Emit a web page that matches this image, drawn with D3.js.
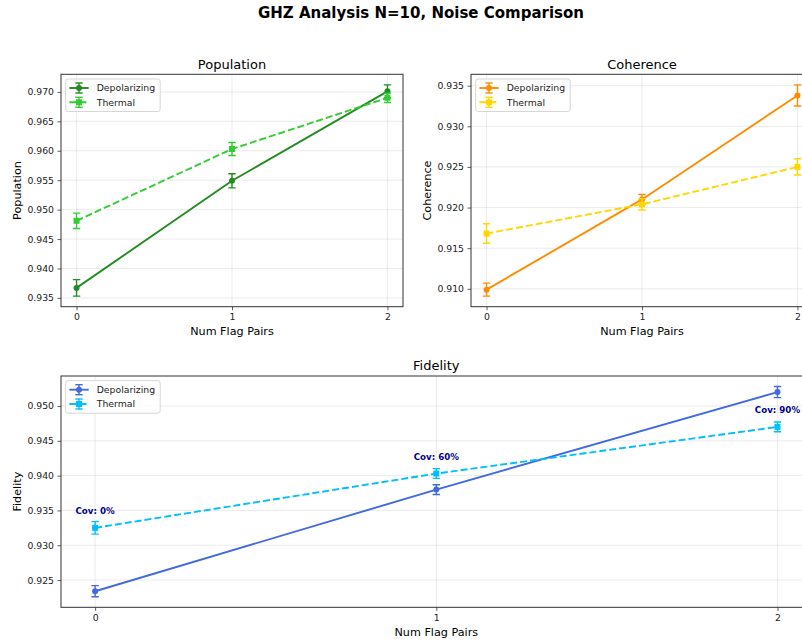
<!DOCTYPE html>
<html>
<head>
<meta charset="utf-8">
<script src="https://cdn.jsdelivr.net/npm/d3@7"></script>
<style>
  body { margin: 0; background: #fff; }
  svg { display: block; font-family: "DejaVu Sans", sans-serif; }
</style>
</head>
<body>
<svg id="fig" width="802" height="643"></svg>
<script>
// ---- data ----
const flagPairs = [0, 1, 2];
const coverageLabels = ["Cov: 0%", "Cov: 60%", "Cov: 90%"];

const popDepol = [0.9367, 0.9549, 0.9701];
const popDepolErr = [0.0014, 0.0012, 0.0011];
const popTherm = [0.9481, 0.9603, 0.9690];
const popThermErr = [0.0013, 0.0011, 0.0008];

const cohDepol = [0.9099, 0.9210, 0.9338];
const cohDepolErr = [0.0008, 0.0006, 0.0013];
const cohTherm = [0.9168, 0.9204, 0.9250];
const cohThermErr = [0.0012, 0.0007, 0.0010];

const fidDepol = [0.9234, 0.9380, 0.9520];
const fidDepolErr = [0.0008, 0.0007, 0.0008];
const fidTherm = [0.9325, 0.9403, 0.9470];
const fidThermErr = [0.0009, 0.0007, 0.0007];

const popTicks = [0.935, 0.940, 0.945, 0.950, 0.955, 0.960, 0.965, 0.970];
const cohTicks = [0.910, 0.915, 0.920, 0.925, 0.930, 0.935];
const fidTicks = [0.925, 0.930, 0.935, 0.940, 0.945, 0.950];

const seriesNames = ["Depolarizing", "Thermal"];

// ---- figure ----
const svg = d3.select("#fig");

svg.append("text")
  .attr("x", 421).attr("y", 18)
  .attr("text-anchor", "middle")
  .attr("font-size", 15).attr("font-weight", "bold")
  .text("GHZ Analysis N=10, Noise Comparison");

function panel(cfg) {
  const { box, title, ylabel, ticks, series, colors, annotate } = cfg;
  const g = svg.append("g");

  // y-limits from the error-bar extents plus a 5% margin
  let lo = Infinity, hi = -Infinity;
  series.forEach(s => s.v.forEach((v, i) => {
    lo = Math.min(lo, v - s.e[i]);
    hi = Math.max(hi, v + s.e[i]);
  }));
  const pad = (hi - lo) * 0.05;

  const x = d3.scaleLinear().domain([-0.1, 2.1]).range([box.l, box.r]);
  const y = d3.scaleLinear().domain([lo - pad, hi + pad]).range([box.b, box.t]);

  const clipId = "clip" + Math.random().toString(36).slice(2, 8);
  svg.append("clipPath").attr("id", clipId)
    .append("rect").attr("x", box.l).attr("y", box.t)
    .attr("width", box.r - box.l).attr("height", box.b - box.t);

  // grid
  const grid = g.append("g").attr("stroke", "#b0b0b0").attr("stroke-opacity", 0.35).attr("stroke-width", 0.75);
  ticks.forEach(t => grid.append("line")
    .attr("x1", box.l).attr("x2", box.r).attr("y1", y(t)).attr("y2", y(t)));
  flagPairs.forEach(t => grid.append("line")
    .attr("x1", x(t)).attr("x2", x(t)).attr("y1", box.t).attr("y2", box.b));

  // axes
  const yAxis = g.append("g").attr("transform", `translate(${box.l},0)`)
    .call(d3.axisLeft(y).tickValues(ticks).tickFormat(d3.format(".3f")).tickSize(3.5).tickPadding(3.5));
  const xAxis = g.append("g").attr("transform", `translate(0,${box.b})`)
    .call(d3.axisBottom(x).tickValues(flagPairs).tickFormat(d3.format("d")).tickSize(3.5).tickPadding(3.5));
  [yAxis, xAxis].forEach(a => {
    a.select(".domain").remove();
    a.selectAll("line").attr("stroke", "#333").attr("stroke-width", 0.8);
    a.selectAll("text").attr("font-size", 9.3).attr("fill", "#222")
      .attr("font-family", '"DejaVu Sans", sans-serif');
  });

  // series
  const plot = g.append("g").attr("clip-path", `url(#${clipId})`);
  series.forEach((s, si) => {
    const col = colors[si];
    const pts = flagPairs.map((f, i) => ({ f, v: s.v[i], e: s.e[i] }));
    plot.append("path")
      .datum(pts)
      .attr("fill", "none").attr("stroke", col).attr("stroke-width", 1.9)
      .attr("stroke-dasharray", si === 1 ? "7,3" : null)
      .attr("d", d3.line().x(d => x(d.f)).y(d => y(d.v)));
    const eb = plot.append("g").attr("stroke", col).attr("stroke-width", 1.4);
    pts.forEach(d => {
      const cx = x(d.f), y1 = y(d.v - d.e), y2 = y(d.v + d.e);
      eb.append("line").attr("x1", cx).attr("x2", cx).attr("y1", y1).attr("y2", y2);
      eb.append("line").attr("x1", cx - 3.7).attr("x2", cx + 3.7).attr("y1", y1).attr("y2", y1);
      eb.append("line").attr("x1", cx - 3.7).attr("x2", cx + 3.7).attr("y1", y2).attr("y2", y2);
    });
    pts.forEach(d => {
      if (si === 0) {
        plot.append("circle").attr("cx", x(d.f)).attr("cy", y(d.v)).attr("r", 3).attr("fill", col);
      } else {
        plot.append("rect").attr("x", x(d.f) - 3).attr("y", y(d.v) - 3)
          .attr("width", 6).attr("height", 6).attr("fill", col);
      }
    });
  });

  if (annotate) {
    const th = series[1];
    flagPairs.forEach((f, i) => {
      g.append("text")
        .attr("x", x(f)).attr("y", y(th.v[i]) - 14)
        .attr("text-anchor", "middle")
        .attr("font-size", 8.7).attr("font-weight", "bold").attr("fill", "#00008b")
        .text(annotate[i]);
    });
  }

  // frame
  g.append("rect").attr("x", box.l).attr("y", box.t)
    .attr("width", box.r - box.l).attr("height", box.b - box.t)
    .attr("fill", "none").attr("stroke", "#333").attr("stroke-width", 1);

  // titles
  const cxMid = (box.l + box.r) / 2;
  g.append("text").attr("x", cxMid).attr("y", box.t - 5.6)
    .attr("text-anchor", "middle").attr("font-size", 13).attr("fill", "#000").text(title);
  g.append("text").attr("x", cxMid).attr("y", box.b + 28.5)
    .attr("text-anchor", "middle").attr("font-size", 11.2).attr("fill", "#000").text("Num Flag Pairs");
  g.append("text")
    .attr("transform", `translate(${box.l - 40},${(box.t + box.b) / 2}) rotate(-90)`)
    .attr("text-anchor", "middle").attr("font-size", 11.2).attr("fill", "#000").text(ylabel);

  // legend
  const lg = g.append("g").attr("transform", `translate(${box.l + 4.7},${box.t + 4.7})`);
  lg.append("rect").attr("width", 94.5).attr("height", 32.5).attr("rx", 2.5)
    .attr("fill", "#fff").attr("fill-opacity", 0.8).attr("stroke", "#cccccc").attr("stroke-width", 0.8);
  seriesNames.forEach((name, si) => {
    const col = colors[si];
    const ry = 9 + si * 14.3;
    const row = lg.append("g").attr("transform", `translate(0,${ry})`);
    row.append("line").attr("x1", 3.7).attr("x2", 23).attr("y1", 0).attr("y2", 0)
      .attr("stroke", col).attr("stroke-width", 1.9)
      .attr("stroke-dasharray", si === 1 ? "7,3" : null);
    const mx = 13.3;
    row.append("line").attr("x1", mx).attr("x2", mx).attr("y1", -5).attr("y2", 5).attr("stroke", col).attr("stroke-width", 1.4);
    row.append("line").attr("x1", mx - 3.7).attr("x2", mx + 3.7).attr("y1", -5).attr("y2", -5).attr("stroke", col).attr("stroke-width", 1.4);
    row.append("line").attr("x1", mx - 3.7).attr("x2", mx + 3.7).attr("y1", 5).attr("y2", 5).attr("stroke", col).attr("stroke-width", 1.4);
    if (si === 0) row.append("circle").attr("cx", mx).attr("cy", 0).attr("r", 3).attr("fill", col);
    else row.append("rect").attr("x", mx - 3).attr("y", -3).attr("width", 6).attr("height", 6).attr("fill", col);
    row.append("text").attr("x", 31).attr("y", 3.4).attr("font-size", 9.3).attr("fill", "#222").text(name);
  });
}

panel({
  box: { l: 61, r: 403, t: 74.3, b: 306.7 },
  title: "Population", ylabel: "Population", ticks: popTicks,
  series: [{ v: popDepol, e: popDepolErr }, { v: popTherm, e: popThermErr }],
  colors: ["#228b22", "#32cd32"]
});

panel({
  box: { l: 471, r: 813, t: 74.3, b: 306.7 },
  title: "Coherence", ylabel: "Coherence", ticks: cohTicks,
  series: [{ v: cohDepol, e: cohDepolErr }, { v: cohTherm, e: cohThermErr }],
  colors: ["#ff8c00", "#ffd700"]
});

panel({
  box: { l: 61, r: 811.6, t: 376, b: 607.3 },
  title: "Fidelity", ylabel: "Fidelity", ticks: fidTicks,
  series: [{ v: fidDepol, e: fidDepolErr }, { v: fidTherm, e: fidThermErr }],
  colors: ["#4169e1", "#00bfff"],
  annotate: coverageLabels
});
</script>
</body>
</html>
